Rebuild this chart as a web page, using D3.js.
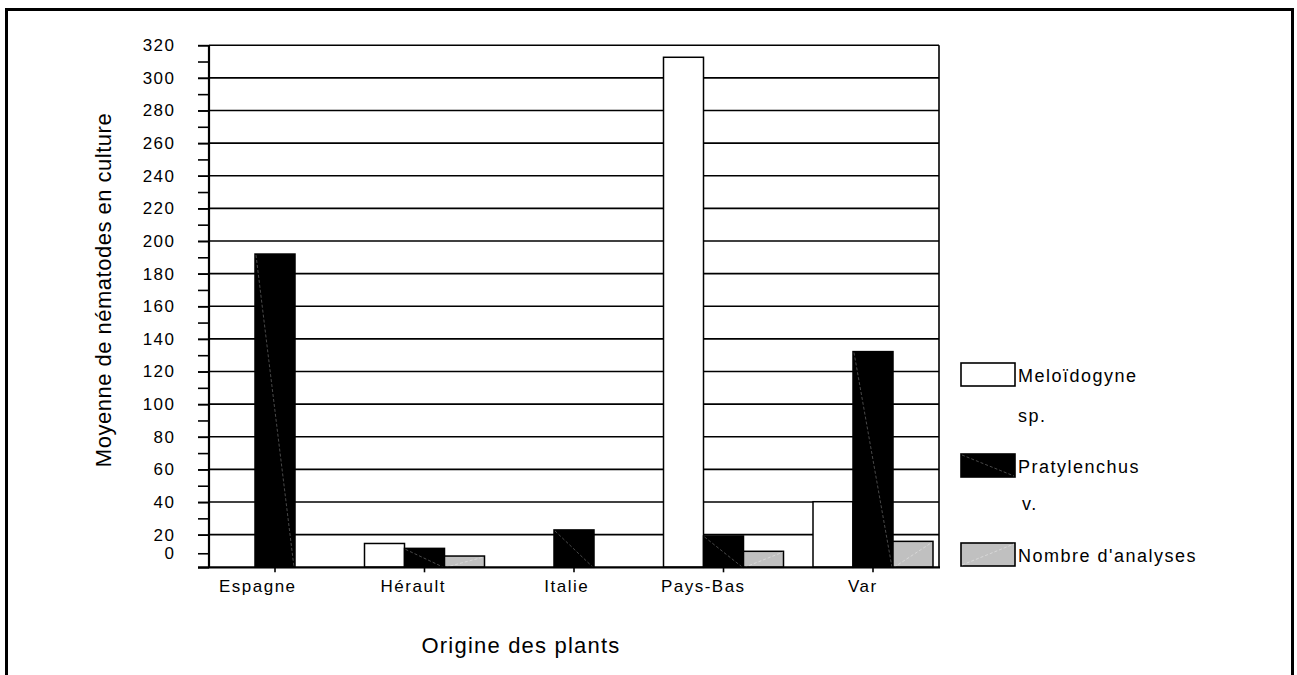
<!DOCTYPE html>
<html>
<head>
<meta charset="utf-8">
<script src="https://cdn.jsdelivr.net/npm/d3@7"></script>
<style>
  html, body { margin: 0; padding: 0; background: #fff; }
  svg { display: block; font-family: "Liberation Sans", Arial, sans-serif; }
</style>
</head>
<body>
<svg id="chart" width="1297" height="675"></svg>
<script>
// ---- data ----
const categories = ["Espagne", "Hérault", "Italie", "Pays-Bas", "Var"];
const seriesNames = ["Meloïdogyne sp.", "Pratylenchus v.", "Nombre d'analyses"];
const meloidogyne = [0, 14.6, 0, 312.6, 40.2];
const pratylenchus = [192, 11.6, 22.9, 19.2, 132.2];
const nombreAnalyses = [0, 6.9, 0, 9.8, 15.9];
const yMajorTicks = [0, 20, 40, 60, 80, 100, 120, 140, 160, 180, 200, 220, 240, 260, 280, 300, 320];
const yMinorTicks = [30, 50, 70, 90, 110, 130, 150, 170, 190, 210, 230, 250, 270, 290, 310];
// label positions as printed on the original axis ("0" sits just above the baseline)
const yLabelValues = [8.6, 20, 40, 60, 80, 100, 120, 140, 160, 180, 200, 220, 240, 260, 280, 300, 320];
const yLabelTexts = ["0", "20", "40", "60", "80", "100", "120", "140", "160", "180", "200", "220", "240", "260", "280", "300", "320"];
const legendLines = [["Meloïdogyne", "sp."], ["Pratylenchus", "v."], ["Nombre d'analyses"]];

const seriesValues = [meloidogyne, pratylenchus, nombreAnalyses];
const fills = ["#ffffff", "#000000", "#c0c0c0"];
// the original category labels sit slightly left of their ticks
const xLabelNudge = [-18, -12, -8, -21, -11];

const svg = d3.select("#chart");

// outer frame
svg.append("rect").attr("x", 6.5).attr("y", 9.5).attr("width", 1286).attr("height", 700)
  .attr("fill", "none").attr("stroke", "#000").attr("stroke-width", 3);

const plotL = 209, plotR = 939, plotT = 45.2, plotB = 567.3;
const y = d3.scaleLinear().domain([0, 320]).range([plotB, plotT]);
const x = d3.scaleBand().domain(categories).range([200.25, 947.75]).padding(0);
const xs = d3.scaleBand().domain(seriesNames).range([-60, 60]).padding(0);

// gridlines
svg.append("g").selectAll("line").data(yMajorTicks.filter(v => v > 0)).join("line")
  .attr("x1", plotL).attr("x2", plotR)
  .attr("y1", d => y(d)).attr("y2", d => y(d))
  .attr("stroke", "#000").attr("stroke-width", 1.6);

// right border of plot
svg.append("line").attr("x1", plotR).attr("x2", plotR).attr("y1", plotT).attr("y2", plotB)
  .attr("stroke", "#000").attr("stroke-width", 1.6);

// bars
const groups = svg.append("g").selectAll("g").data(seriesValues).join("g");
groups.each(function(vals, si) {
  const g = d3.select(this);
  vals.forEach((v, ci) => {
    const cx = x(categories[ci]) + x.bandwidth() / 2;
    const x0 = cx + xs(seriesNames[si]);
    const w = xs.bandwidth();
    const y0 = y(v);
    g.append("rect").attr("x", x0).attr("y", y0).attr("width", w).attr("height", plotB - y0)
      .attr("fill", fills[si]).attr("stroke", "#000").attr("stroke-width", 1.5);
    if (v > 0 && si === 1) {
      g.append("line").attr("x1", x0 + 1).attr("y1", y0 + 1).attr("x2", x0 + w - 1).attr("y2", plotB)
        .attr("stroke", "#7a7a7a").attr("stroke-width", 0.6).attr("stroke-dasharray", "3,2");
    }
    if (v > 0 && si === 2) {
      g.append("line").attr("x1", x0 + 1).attr("y1", plotB).attr("x2", x0 + w - 1).attr("y2", y0 + 1)
        .attr("stroke", "#e6e6e6").attr("stroke-width", 0.6).attr("stroke-dasharray", "3,2");
    }
  });
});

// y axis
const yAxisG = svg.append("g").attr("transform", `translate(${plotL},0)`);
yAxisG.call(d3.axisLeft(y).tickValues(yMajorTicks).tickSize(11).tickFormat(""))
  .call(g => g.select(".domain").remove());
yAxisG.selectAll(".tick line").attr("stroke", "#000").attr("stroke-width", 1.6);
yAxisG.append("g").call(d3.axisLeft(y).tickValues(yMinorTicks).tickSize(11).tickFormat(""))
  .call(g => g.select(".domain").remove())
  .selectAll(".tick line").attr("stroke", "#000").attr("stroke-width", 1.6);
yAxisG.append("g").call(d3.axisLeft(y).tickValues(yLabelValues).tickSize(11).tickPadding(22.5)
    .tickFormat((d, i) => yLabelTexts[i]))
  .call(g => g.select(".domain").remove())
  .call(g => g.selectAll(".tick line").attr("stroke", "#000").attr("stroke-width", 1.6))
  .call(g => g.selectAll("text").attr("font-size", 17).attr("letter-spacing", "1.5px")
    .attr("fill", "#000").attr("font-family", "'Liberation Sans', Arial, sans-serif"));
yAxisG.append("line").attr("x1", 0).attr("x2", 0).attr("y1", plotT).attr("y2", plotB)
  .attr("stroke", "#000").attr("stroke-width", 2.2);

// x axis
const xAxisG = svg.append("g").attr("transform", `translate(0,${plotB})`);
xAxisG.call(d3.axisBottom(x).tickSize(5).tickPadding(8))
  .call(g => g.select(".domain").remove());
xAxisG.selectAll(".tick line").attr("stroke", "#000").attr("stroke-width", 1.6);
xAxisG.selectAll("text").attr("font-size", 17).attr("letter-spacing", "1.5px")
  .attr("dx", (d, i) => xLabelNudge[i] + 0.75)
  .attr("fill", "#000").attr("font-family", "'Liberation Sans', Arial, sans-serif");
svg.append("line").attr("x1", plotL - 11).attr("x2", plotR + 1).attr("y1", plotB).attr("y2", plotB)
  .attr("stroke", "#000").attr("stroke-width", 2.2);

// axis titles
svg.append("text").attr("x", 521).attr("y", 653).attr("text-anchor", "middle")
  .attr("font-size", 22).attr("letter-spacing", "1.2px").text("Origine des plants");
svg.append("text").attr("transform", "translate(111,290) rotate(-90)").attr("text-anchor", "middle")
  .attr("font-size", 22).attr("letter-spacing", "0.5px").text("Moyenne de nématodes en culture");

// legend
const legTops = [363, 454, 543];
const leg = svg.append("g").selectAll("g").data(seriesNames).join("g");
leg.each(function(name, i) {
  const g = d3.select(this);
  const bx = 961, by = legTops[i], bw = 54, bh = 23;
  g.append("rect").attr("x", bx).attr("y", by).attr("width", bw).attr("height", bh)
    .attr("fill", fills[i]).attr("stroke", "#000").attr("stroke-width", 1.6);
  if (i === 1) g.append("line").attr("x1", bx + 1).attr("y1", by + 1).attr("x2", bx + bw - 1).attr("y2", by + bh - 1)
    .attr("stroke", "#7a7a7a").attr("stroke-width", 0.6).attr("stroke-dasharray", "3,2");
  if (i === 2) g.append("line").attr("x1", bx + 1).attr("y1", by + bh - 1).attr("x2", bx + bw - 1).attr("y2", by + 1)
    .attr("stroke", "#e6e6e6").attr("stroke-width", 0.6).attr("stroke-dasharray", "3,2");
  const lines = legendLines[i];
  g.append("text").attr("x", 1018).attr("y", by + 19).attr("font-size", 18).attr("letter-spacing", "1.5px")
    .text(lines[0]);
  if (lines[1]) {
    g.append("text").attr("x", i === 1 ? 1022 : 1018).attr("y", by + (i === 1 ? 56 : 59))
      .attr("font-size", 18).attr("letter-spacing", "1.5px").text(lines[1]);
  }
});
</script>
</body>
</html>
